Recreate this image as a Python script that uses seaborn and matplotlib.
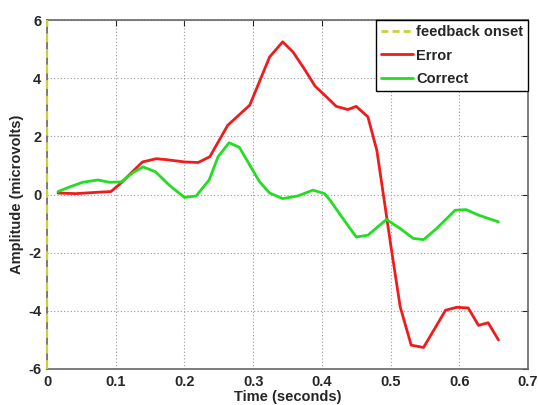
import matplotlib
matplotlib.use("Agg")
import matplotlib.pyplot as plt
import seaborn as sns
import pandas as pd
import numpy as np

# Data
error_t = [0.016, 0.042, 0.076, 0.093, 0.108, 0.125, 0.139, 0.159, 0.173, 0.200, 0.220, 0.237,
           0.263, 0.295, 0.324, 0.343, 0.358, 0.375, 0.390, 0.404, 0.421, 0.438, 0.450, 0.467,
           0.480, 0.492, 0.500, 0.514, 0.530, 0.548, 0.580, 0.596, 0.613, 0.628, 0.642, 0.657]
error_v = [0.05, 0.03, 0.08, 0.10, 0.40, 0.80, 1.12, 1.23, 1.20, 1.12, 1.10, 1.30,
           2.38, 3.07, 4.73, 5.25, 4.90, 4.30, 3.73, 3.42, 3.03, 2.92, 3.03, 2.67,
           1.52, -0.40, -1.70, -3.86, -5.18, -5.26, -3.98, -3.88, -3.90, -4.50, -4.41, -5.00]

correct_t = [0.016, 0.033, 0.052, 0.074, 0.091, 0.108, 0.125, 0.140, 0.158, 0.178, 0.200, 0.217,
             0.236, 0.249, 0.265, 0.280, 0.309, 0.324, 0.343, 0.365, 0.387, 0.404, 0.412, 0.429,
             0.450, 0.467, 0.494, 0.514, 0.533, 0.548, 0.567, 0.594, 0.610, 0.628, 0.657]
correct_v = [0.10, 0.26, 0.42, 0.50, 0.42, 0.43, 0.75, 0.95, 0.78, 0.32, -0.10, -0.05,
             0.50, 1.30, 1.78, 1.62, 0.45, 0.05, -0.14, -0.05, 0.15, 0.03, -0.20, -0.77,
             -1.46, -1.40, -0.86, -1.17, -1.51, -1.55, -1.17, -0.54, -0.52, -0.71, -0.94]

onset_t = [0.0, 0.0]
onset_v = [-6.0, 6.0]

x_ticks = [0, 0.1, 0.2, 0.3, 0.4, 0.5, 0.6, 0.7]
x_tick_labels = ["0", "0.1", "0.2", "0.3", "0.4", "0.5", "0.6", "0.7"]
y_ticks = [-6, -4, -2, 0, 2, 4, 6]
y_tick_labels = ["-6", "-4", "-2", "0", "2", "4", "6"]

df = pd.concat([
    pd.DataFrame({"t": onset_t, "v": onset_v, "series": "feedback onset"}),
    pd.DataFrame({"t": error_t, "v": error_v, "series": "Error"}),
    pd.DataFrame({"t": correct_t, "v": correct_v, "series": "Correct"}),
])

sns.set_style("white")
plt.rcParams['font.family'] = ['Liberation Sans', 'DejaVu Sans']

fig = plt.figure(figsize=(5.38, 4.05), dpi=100)
ax = fig.add_axes([47/538, 36/405, 481/538, 349/405])

palette = {"feedback onset": "#c8d040", "Error": "#ee1c1c", "Correct": "#22dd22"}
sns.lineplot(data=df, x="t", y="v", hue="series", palette=palette, ax=ax,
             sort=False, estimator=None, linewidth=2.0)
# dashed onset line drawn over the left spine
onset = ax.lines[0]
onset.set_linestyle((0, (4, 3)))
onset.set_linewidth(1.6)
onset.set_clip_on(False)
onset.set_zorder(5)

ax.set_xlim(0, 0.7)
ax.set_ylim(-6, 6)
ax.set_xticks(x_ticks)
ax.set_xticklabels(x_tick_labels, fontweight="bold", fontsize=10.5)
ax.set_yticks(y_ticks)
ax.set_yticklabels(y_tick_labels, fontweight="bold", fontsize=10.5)
ax.tick_params(direction="in", length=4, top=True, right=True, pad=4)
ax.grid(True, linestyle=(0, (1, 2)), color="#999999", linewidth=0.8)
for s in ax.spines.values():
    s.set_color("#666666")
    s.set_linewidth(1.2)

ax.set_xlabel("Time (seconds)", fontweight="bold", fontsize=10.5, labelpad=1)
ax.set_ylabel("Amplitude (microvolts)", fontweight="bold", fontsize=10.5, labelpad=3)

handles, labels = ax.get_legend_handles_labels()
handles[0].set_linestyle((0, (2.5, 1.5)))
leg = ax.legend(handles, labels, loc="upper right", fancybox=False, framealpha=1,
                edgecolor="black", prop={"weight": "bold", "size": 10.5},
                borderaxespad=0.0, handlelength=2.2, handletextpad=0.2,
                labelspacing=0.65, borderpad=0.35)
leg.get_frame().set_linewidth(1.0)
leg.set_zorder(6)

fig.savefig("out.png", dpi=100)
